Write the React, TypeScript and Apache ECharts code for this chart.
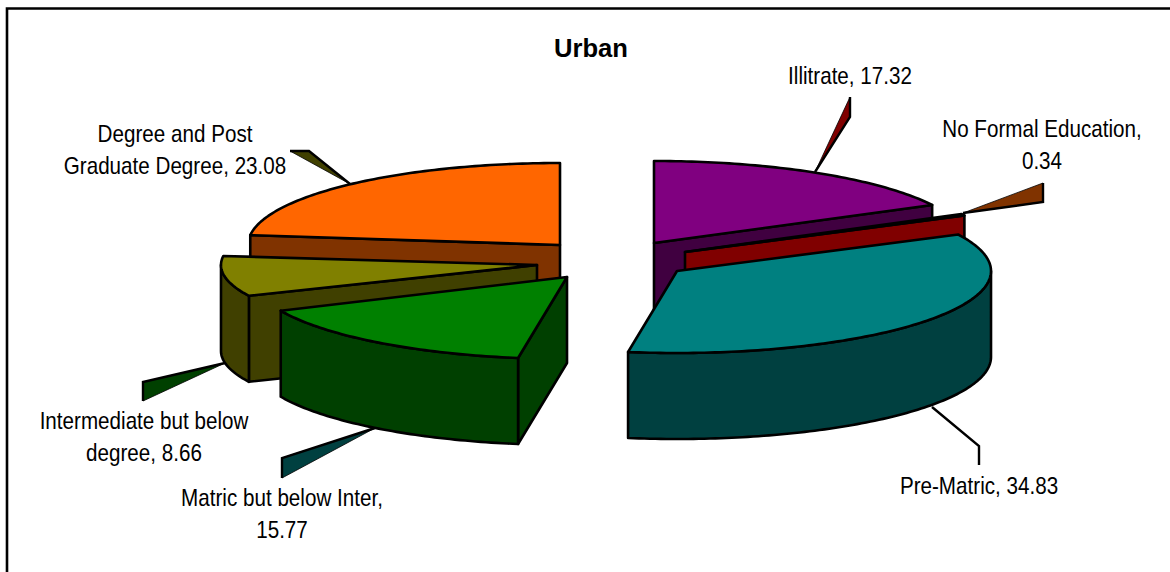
import React, { useEffect, useRef } from "react";
import * as echarts from "echarts";

const categories = ["Illitrate", "No Formal Education", "Pre-Matric", "Matric but below Inter", "Intermediate but below degree", "Degree and Post Graduate Degree"];
const values = [17.32, 0.34, 34.83, 15.77, 8.66, 23.08];
const titleText = "Urban";

// styling and exploded-slice layout (not data)
const topColors = ["#800080", "#800000", "#008080", "#008000", "#808000", "#ff6600"];
const wallColors = ["#400040", "#800000", "#004040", "#004000", "#404000", "#803300"];
const apexX = [654, 685, 677, 567, 537, 560];
const apexY = [243, 252, 271, 277, 265, 245];
const radiusX = [314, 312, 314, 314, 316, 312];
const radiusY = [82, 82, 82, 82, 75, 82];
const DEPTH = 86;
const drawOrder = [0, 1, 2, 5, 4, 3];

// label layout
const labelLines = [
  (n: string, v: number) => `${n}, ${v}`,
  (n: string, v: number) => `${n},\n${v}`,
  (n: string, v: number) => `${n}, ${v}`,
  (n: string, v: number) => `${n},\n${v}`,
  (_: string, v: number) => `Intermediate but below\ndegree, ${v}`,
  (_: string, v: number) => `Degree and Post\nGraduate Degree, ${v}`,
];
const labelX = [850, 1042, 979, 282, 144, 175];
const labelY = [76, 145, 486, 514, 437, 150];
const shardFill = ["#800000", "#803300", "", "#004040", "#004000", "#404000"];
const shardPoints: number[][][] = [
  [[815, 172], [850, 97], [850, 117]],
  [[963, 213], [1043, 183], [1043, 202]],
  [],
  [[375, 428], [282, 458], [282, 478]],
  [[225, 363], [143, 382], [143, 401]],
  [[350, 184], [290, 151], [309, 151]],
];
const shardHeavyEdge: number[][][] = [
  [[815, 172], [850, 117], [850, 97]],
  [[963, 213], [1043, 202], [1043, 183]],
  [],
  [[375, 428], [282, 458], [282, 478]],
  [[225, 363], [143, 382], [143, 401]],
  [[350, 184], [309, 151], [290, 151]],
];
const preMatricLeader = [[932, 407], [979, 446], [979, 465]];

const cumulative: number[] = [];
values.reduce((s, v, i) => ((cumulative[i] = s), s + v), 0);
const total = values.reduce((a, b) => a + b, 0);

function rim(i: number, fromDeg: number, toDeg: number, dy = 0) {
  const pts: number[][] = [];
  const steps = Math.max(2, Math.ceil(Math.abs(toDeg - fromDeg)));
  for (let k = 0; k <= steps; k++) {
    const a = ((fromDeg + ((toDeg - fromDeg) * k) / steps) * Math.PI) / 180;
    pts.push([apexX[i] + radiusX[i] * Math.sin(a), apexY[i] - radiusY[i] * Math.cos(a) + dy]);
  }
  return pts;
}

const edge = { stroke: "#000", lineWidth: 2.6, lineJoin: "round" as const };

function renderSlice(_: any, api: any) {
  const i = api.value(0) as number;
  const start = (cumulative[i] / total) * 360;
  const end = start + (values[i] / total) * 360;
  const apex = [apexX[i], apexY[i]];
  const apexLow = [apexX[i], apexY[i] + DEPTH];
  const children: any[] = [];
  const wall = (points: number[][]) =>
    children.push({ type: "polygon", shape: { points }, style: { ...edge, fill: wallColors[i] } });
  const radial = (deg: number) => {
    const p = rim(i, deg, deg + 0.0001)[0];
    wall([apex, p, [p[0], p[1] + DEPTH], apexLow]);
  };
  // only the radial faces turned towards the viewer are drawn
  if (Math.sin((start * Math.PI) / 180) < 0) radial(start);
  if (Math.sin((end * Math.PI) / 180) > 0) radial(end);
  const from = Math.max(start, 90);
  const to = Math.min(end, 270);
  if (to > from) {
    wall([...rim(i, from, to), ...rim(i, from, to, DEPTH).reverse()]);
  }
  children.push({
    type: "polygon",
    shape: { points: [apex, ...rim(i, start, end)] },
    style: { ...edge, fill: topColors[i] },
  });
  return { type: "group", children };
}

export default function App() {
  const ref = useRef<HTMLDivElement>(null);
  useEffect(() => {
    const chart = echarts.init(ref.current!, undefined, { renderer: "svg" });
    const graphics: any[] = [
      {
        type: "rect",
        shape: { x: 7, y: 8.5, width: 1300, height: 700 },
        style: { fill: "none", stroke: "#000", lineWidth: 2.6 },
        z: 0,
      },
    ];
    shardPoints.forEach((points, i) => {
      if (points.length) {
        graphics.push({
          type: "polygon",
          shape: { points },
          style: { fill: shardFill[i], stroke: "#000", lineWidth: 0.8 },
          z: 3,
        });
        graphics.push({
          type: "polyline",
          shape: { points: shardHeavyEdge[i] },
          style: { fill: "none", stroke: "#000", lineWidth: 2.4 },
          z: 3,
        });
      }
    });
    graphics.push({
      type: "polyline",
      shape: { points: preMatricLeader },
      style: { fill: "none", stroke: "#000", lineWidth: 2.4 },
      z: 3,
    });
    categories.forEach((name, i) => {
      graphics.push({
        type: "text",
        x: labelX[i],
        y: labelY[i],
        scaleX: 0.86,
        z: 4,
        style: {
          text: labelLines[i](name, values[i]),
          font: "24px 'Liberation Sans'",
          fill: "#000",
          textAlign: "center",
          textVerticalAlign: "middle",
          lineHeight: 32,
        },
      });
    });
    chart.setOption({
      animation: false,
      backgroundColor: "#fff",
      title: {
        text: titleText,
        left: 586,
        top: 30,
        textAlign: "center",
        textStyle: { fontFamily: "Liberation Sans", fontWeight: "bold", fontSize: 25.6, color: "#000" },
      },
      series: [
        {
          type: "custom",
          coordinateSystem: "none",
          silent: true,
          renderItem: renderSlice,
          data: drawOrder.map((i) => [i]),
          z: 5,
        },
      ],
      graphic: graphics,
    });
    return () => chart.dispose();
  }, []);
  return <div ref={ref} style={{ position: "fixed", left: 0, top: 0, width: 1170, height: 572 }} />;
}
